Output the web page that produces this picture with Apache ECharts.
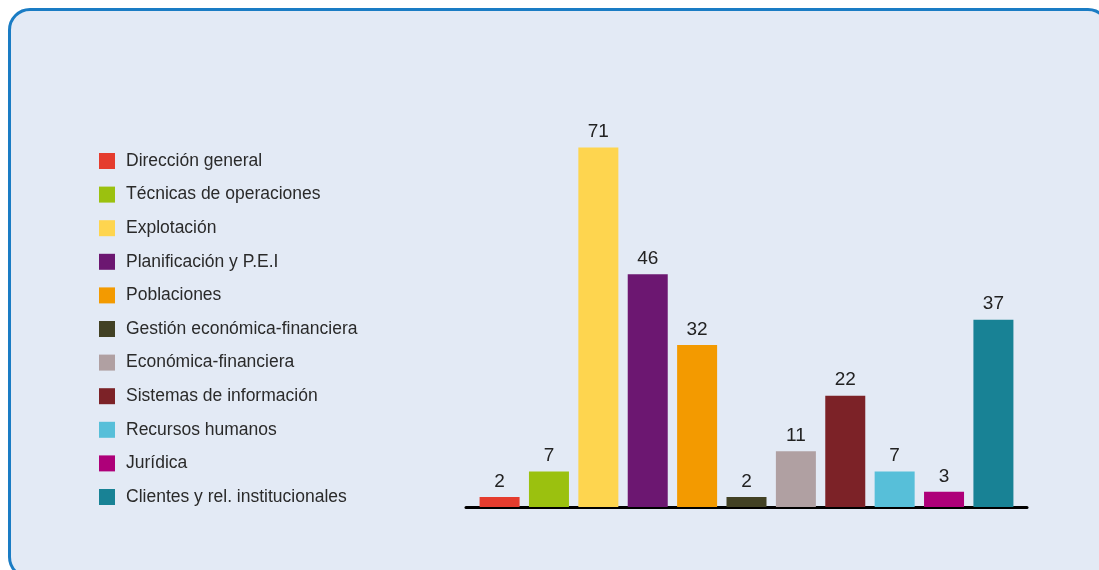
<!DOCTYPE html>
<html>
<head>
<meta charset="utf-8">
<script src="https://cdn.jsdelivr.net/npm/echarts@6/dist/echarts.min.js"></script>
<style>
html,body{margin:0;padding:0;background:#ffffff;overflow:hidden;}
#frame{position:absolute;left:8px;top:8px;width:1096px;height:565px;border:3px solid #1a7cc4;border-radius:22px;background:#e3eaf5;}
#chart{position:absolute;left:0;top:0;width:1099px;height:570px;}
</style>
</head>
<body>
<div id="frame"></div>
<div id="chart"></div>
<script>
const categories = ["Dirección general","Técnicas de operaciones","Explotación","Planificación y P.E.I","Poblaciones","Gestión económica-financiera","Económica-financiera","Sistemas de información","Recursos humanos","Jurídica","Clientes y rel. institucionales"];
const values = [2, 7, 71, 46, 32, 2, 11, 22, 7, 3, 37];
const colors = ["#e53c2e","#9bc10f","#fed54f","#6c1771","#f39a00","#424124","#b0a0a2","#7c2227","#57bfd9","#ae0079","#188295"];

const series = categories.map((name, i) => ({
  name: name,
  type: 'bar',
  barWidth: 40,
  barGap: '-100%',
  itemStyle: { color: colors[i] },
  label: { show: true, position: 'top', distance: 6, color: '#222', fontSize: 19, fontFamily: 'Liberation Sans' },
  data: [[i, values[i]]]
}));

const chart = echarts.init(document.getElementById('chart'));
chart.setOption({
  backgroundColor: 'transparent',
  animation: false,
  legend: {
    orient: 'vertical',
    left: 94,
    top: 147,
    itemWidth: 16,
    itemHeight: 16,
    itemGap: 15.6,
    icon: 'rect',
    textStyle: { fontSize: 17.5, color: '#2a2a2a', fontFamily: 'Liberation Sans', padding: [0, 0, 0, 6] },
    data: categories
  },
  grid: { left: 466, right: 72, top: 102, bottom: 63 },
  xAxis: {
    type: 'value',
    min: -0.68,
    max: 10.68,
    axisLine: { show: true, onZero: false, lineStyle: { color: '#000', width: 3 } },
    axisTick: { show: false },
    axisLabel: { show: false },
    splitLine: { show: false }
  },
  yAxis: {
    type: 'value',
    min: 0,
    max: 80,
    show: false
  },
  series: series
});
</script>
</body>
</html>
